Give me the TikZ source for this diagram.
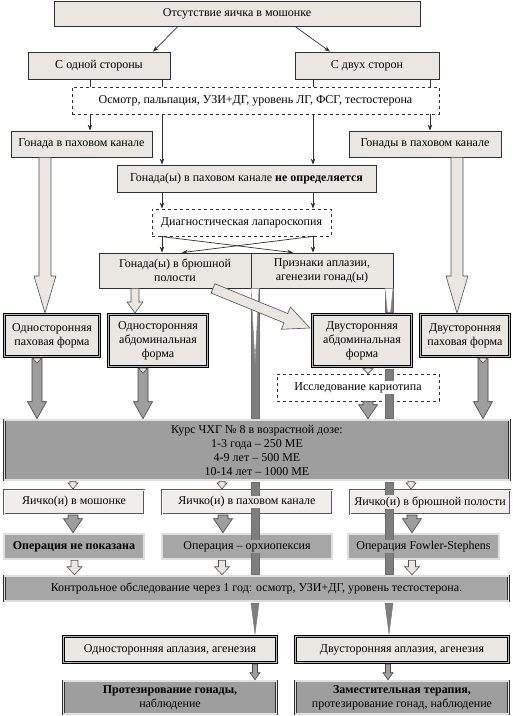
\documentclass[tikz,border=0pt]{standalone}
\usepackage{fontspec}
\setmainfont{Liberation Serif}
\usetikzlibrary{calc,arrows.meta}
\definecolor{lightf}{HTML}{EAE7E2}
\definecolor{paleF}{HTML}{F0EEEA}
\definecolor{midF}{HTML}{A6A6A6}
\definecolor{darkF}{HTML}{9E9E9E}
\definecolor{barF}{HTML}{7E7E7E}
\definecolor{edge}{HTML}{303030}
\newcommand\fs{\fontsize{12}{14}\selectfont}
\newcommand\blockarr[7]{%
  \coordinate (#1s) at #2;
  \coordinate (#1e) at #3;
  \coordinate (#1h) at ($(#1e)!#6!(#1s)$);
  \path[#7] ($(#1s)!#4!90:(#1e)$) -- ($(#1h)!#4!90:(#1e)$) -- ($(#1h)!#5!90:(#1e)$) -- (#1e)
     -- ($(#1h)!#5!-90:(#1e)$) -- ($(#1h)!#4!-90:(#1e)$) -- ($(#1s)!#4!-90:(#1e)$) -- cycle;
}
\tikzset{
  box/.style={draw=edge, line width=0.8pt, fill=lightf, inner sep=1pt, align=center, font=\fs},
  dbox/.style={draw=edge, line width=0.8pt, dashed, fill=white, inner sep=1pt, align=center, font=\fs},
  formbox/.style={draw=black, line width=3.1pt, fill=lightf, postaction={draw=gray!55, line width=1.3pt}, inner sep=1pt, align=center, font=\fs},
  graybox/.style={draw=edge, line width=2.6pt, fill=darkF, postaction={draw=gray!25, line width=1.2pt}, inner sep=1pt, align=center, font=\fs},
  palebox/.style={draw=edge!80, line width=2pt, fill=paleF, postaction={draw=white, line width=0.8pt}},
  opbox/.style={draw=edge, line width=2.6pt, fill=midF, postaction={draw=gray!25, line width=1.2pt}},
  txt/.style={inner sep=1pt, font=\fs, align=center},
  thinarrow/.style={draw=edge, line width=0.7pt, -{Stealth[length=6pt,width=4.5pt]}},
  lightarr/.style={fill=lightf, draw=edge!85, line width=0.6pt},
  grayarr/.style={fill=darkF, draw=edge!90, line width=0.6pt},
  barstyle/.style={fill=barF, draw=edge!70, line width=0.4pt},
  vstyle/.style={fill=white, draw=edge!60, line width=0.4pt}
}
\begin{document}
\begin{tikzpicture}[x=1pt,y=-1pt]
\useasboundingbox (0,0) rectangle (513,716);
% top part
\node[box, minimum width=366pt, minimum height=25pt] (top) at (237,13.5) {Отсутствие яичка в мошонке};
\node[box, minimum width=142pt, minimum height=27pt] (one) at (99,65.5) {С одной стороны};
\node[box, minimum width=144pt, minimum height=27pt] (two) at (367,65.5) {С двух сторон};
\node[box, minimum width=141pt, minimum height=26pt] (gl) at (81.5,144) {Гонада в паховом канале};
\node[box, minimum width=152pt, minimum height=26pt] (gr) at (425,144) {Гонады в паховом канале};
\node[box, minimum width=259pt, minimum height=27pt] (nd) at (246.5,178.5) {Гонада(ы) в паховом канале \textbf{не определяется}};
\draw[thinarrow] ($(top.south)+(-59,0)$) -- ($(one.north)+(54,0)$);
\draw[thinarrow] ($(top.south)+(58,0)$) -- ($(two.north)+(-37,0)$);
\draw[thinarrow] ($(one.south)+(-9,0)$) -- ($(gl.north)+(8.5,0)$);
\draw[thinarrow] ($(one.south)+(63,0)$) -- ($(nd.north)+(-84.5,0)$);
\draw[thinarrow] ($(two.south)+(-54,0)$) -- ($(nd.north)+(66.5,0)$);
\draw[thinarrow] ($(two.south)+(63,0)$) -- ($(gr.north)+(5,0)$);
\node[dbox, minimum width=367pt, minimum height=27pt] (osm) at (255.5,100.5) {Осмотр, пальпация, УЗИ+ДГ, уровень ЛГ, ФСГ, тестостерона};
\node[dbox, minimum width=179pt, minimum height=27pt] (lap) at (241.5,222.5) {Диагностическая лапароскопия};
\node[box, minimum width=152pt, minimum height=35pt] (abd) at (175,270.5) {Гонада(ы) в брюшной\\полости};
\node[box, minimum width=142pt, minimum height=35pt] (apl) at (322,270.5) {Признаки аплазии,\\агенезии гонад(ы)};
\draw[thinarrow] ($(nd.south)+(-84.5,0)$) -- ($(lap.north)+(-79.5,0)$);
\draw[thinarrow] ($(nd.south)+(66.5,0)$) -- ($(lap.north)+(71.5,0)$);
\draw[thinarrow] ($(lap.south)+(-79.5,0)$) -- ($(abd.north)+(-13,0)$);
\draw[thinarrow] ($(lap.south)+(71.5,0)$) -- ($(apl.north)+(-9,0)$);
\draw[thinarrow] ($(lap.south)+(-81.5,0)$) -- ($(apl.north)+(-29,0)$);
\draw[thinarrow] ($(lap.south)+(71.5,0)$) -- ($(abd.north)+(7,0)$);
% lower nodes
\node[formbox, minimum width=213pt, minimum height=26pt] (a1) at (170,649.5) {Односторонняя аплазия, агенезия};
\node[formbox, minimum width=213pt, minimum height=26pt] (a2) at (402,649.5) {Двусторонняя аплазия, агенезия};
\node[graybox, minimum width=213pt, minimum height=33pt] (p1) at (170,697.5) {\textbf{Протезирование гонады,}\\наблюдение};
\node[graybox, minimum width=213pt, minimum height=33pt] (p2) at (402,697.5) {\textbf{Заместительная терапия,}\\протезирование гонад, наблюдение};
\blockarr{ap1}{($(a1.south)+(85,0)$)}{($(p1.north)+(85,0)$)}{2.5pt}{5pt}{7pt}{grayarr}
\blockarr{ap2}{($(a2.south)+(-14,0)$)}{($(p2.north)+(-14,0)$)}{2.5pt}{5pt}{7pt}{grayarr}
\node[palebox, minimum width=140pt, minimum height=24pt] (y1) at (74,502) {};
\node[palebox, minimum width=170pt, minimum height=24pt] (y2) at (247,502) {};
\node[palebox, minimum width=160pt, minimum height=24pt] (y3) at (430,502) {};
\node[opbox, minimum width=140pt, minimum height=25pt] (o1) at (74,546.5) {};
\node[opbox, minimum width=170pt, minimum height=25pt] (o2) at (247,546.5) {};
\node[opbox, minimum width=151pt, minimum height=25pt] (o3) at (423.5,546.5) {};
\node[draw=edge, line width=0.8pt, dashed, fill=white, minimum width=162pt, minimum height=27pt] (kar) at (358,387.5) {};
% long bars (pieces between the boxes that hide them)
\path[barstyle] (251,288) rectangle (259,418);
\path[barstyle] (251,482) rectangle (259,574);
\path[barstyle] (251,603) -- (259,603) -- (255,634) -- cycle;
\path[barstyle] (385,288) rectangle (393,312);
\path[barstyle] (385,369) rectangle (393,418);
\path[barstyle] (385,482) rectangle (393,574);
\path[barstyle] (385,603) -- (393,603) -- (389,634) -- cycle;
\path[vstyle] (251,288.5) -- (259,288.5) -- (255,362) -- cycle;
\path[vstyle] (385,288.5) -- (393,288.5) -- (390.5,312) -- (387.5,312) -- cycle;
% texts of the boxes the bars pass over
\node[txt, fill=paleF] (y1t) at (y1.center) {Яичко(и) в мошонке};
\node[txt, fill=paleF] (y2t) at (y2.center) {Яичко(и) в паховом канале};
\node[txt, fill=paleF] (y3t) at (y3.center) {Яичко(и) в брюшной полости};
\node[txt, fill=midF] (o1t) at (o1.center) {\textbf{Операция не показана}};
\node[txt, fill=midF] (o2t) at (o2.center) {Операция – орхиопексия};
\node[txt, fill=midF] (o3t) at (o3.center) {Операция Fowler-Stephens};
\node[txt, fill=white] (kart) at (kar.center) {Исследование кариотипа};
% forms, course, control
\node[formbox, minimum width=95pt, minimum height=42pt] (f1) at (52,335.5) {Односторонняя\\паховая форма};
\node[formbox, minimum width=99pt, minimum height=52pt] (f2) at (158,340.5) {Односторонняя\\абдоминальная\\форма};
\node[formbox, minimum width=99pt, minimum height=52pt] (f3) at (362,340.5) {Двусторонняя\\абдоминальная\\форма};
\node[formbox, minimum width=89pt, minimum height=42pt] (f4) at (465,335.5) {Двусторонняя\\паховая форма};
\node[graybox, minimum width=505pt, minimum height=60pt] (kurs) at (257,450) {Курс ЧХГ № 8 в возрастной дозе:\\1-3 года – 250 МЕ\\4-9 лет – 500 МЕ\\10-14 лет – 1000 МЕ};
\node[graybox, fill=midF, minimum width=504pt, minimum height=25pt] (ctrl) at (256.5,588.5) {Контрольное обследование через 1 год: осмотр, УЗИ+ДГ, уровень тестостерона.};
% light block arrows
\blockarr{ga}{($(gl.south)+(-36.5,0)$)}{($(f1.north)+(-7,0)$)}{6pt}{11pt}{37pt}{lightarr}
\blockarr{gb}{($(gr.south)+(32,0)$)}{($(f4.north)+(-8,0)$)}{6pt}{11pt}{37pt}{lightarr}
\blockarr{gc}{($(abd.south)+(-40,0)$)}{($(f2.north)+(-23,0)$)}{4pt}{8pt}{11pt}{lightarr}
\blockarr{gd}{($(abd.south)+(38,0)$)}{($(f3.west)+(-1,-12.5)$)}{5pt}{12pt}{26pt}{lightarr}
% gray block arrows to course
\blockarr{k1}{($(f1.south)+(-15,0)$)}{($(kurs.north)+(-220,0)$)}{5pt}{9.5pt}{17pt}{grayarr}
\blockarr{k2}{($(f2.south)+(-15,0)$)}{($(kurs.north)+(-114,0)$)}{5pt}{9.5pt}{17pt}{grayarr}
\blockarr{k3}{($(kar.south)+(10,0)$)}{($(kurs.north)+(111,0)$)}{5pt}{9.5pt}{14pt}{grayarr}
\blockarr{k4}{($(f4.south)+(18,0)$)}{($(kurs.north)+(226,0)$)}{5pt}{9.5pt}{17pt}{grayarr}
\blockarr{t1}{($(f1.south)+(-15,0)$)}{($(f1.south)+(-15,5)$)}{2.5pt}{4.5pt}{5pt}{lightarr}
\blockarr{t2}{($(f2.south)+(-15,0)$)}{($(f2.south)+(-15,5)$)}{2.5pt}{4.5pt}{5pt}{lightarr}
\blockarr{t4}{($(f4.south)+(18,0)$)}{($(f4.south)+(18,5)$)}{2.5pt}{4.5pt}{5pt}{lightarr}
\blockarr{fk}{($(f3.south)+(6,0)$)}{($(kar.north)+(10,0)$)}{3pt}{5pt}{5pt}{lightarr}
% course to results
\blockarr{ky1}{($(kurs.south)+(-184,0)$)}{($(y1.north)+(-1,0)$)}{3pt}{5pt}{6pt}{lightarr}
\blockarr{ky2}{($(kurs.south)+(-35,0)$)}{($(y2.north)+(-25,0)$)}{3pt}{5pt}{6pt}{lightarr}
\blockarr{ky3}{($(kurs.south)+(154,0)$)}{($(y3.north)+(-19,0)$)}{3pt}{5pt}{6pt}{lightarr}
\blockarr{yo1}{($(y1.south)+(-1,0)$)}{($(o1.north)+(-1,0)$)}{5pt}{9.5pt}{14pt}{grayarr}
\blockarr{yo2}{($(y2.south)+(-24,0)$)}{($(o2.north)+(-24,0)$)}{5pt}{9.5pt}{14pt}{grayarr}
\blockarr{yo3}{($(y3.south)+(-18,0)$)}{($(o3.north)+(-11.5,0)$)}{5pt}{9.5pt}{14pt}{grayarr}
\blockarr{oc1}{($(o1.south)+(0.5,0)$)}{($(ctrl.north)+(-182,0)$)}{3.5pt}{7.5pt}{8pt}{lightarr}
\blockarr{oc2}{($(o2.south)+(-25,0)$)}{($(ctrl.north)+(-34.5,0)$)}{3.5pt}{7.5pt}{8pt}{lightarr}
\blockarr{oc3}{($(o3.south)+(-11.5,0)$)}{($(ctrl.north)+(155.5,0)$)}{3.5pt}{7.5pt}{8pt}{lightarr}
\end{tikzpicture}
\end{document}
